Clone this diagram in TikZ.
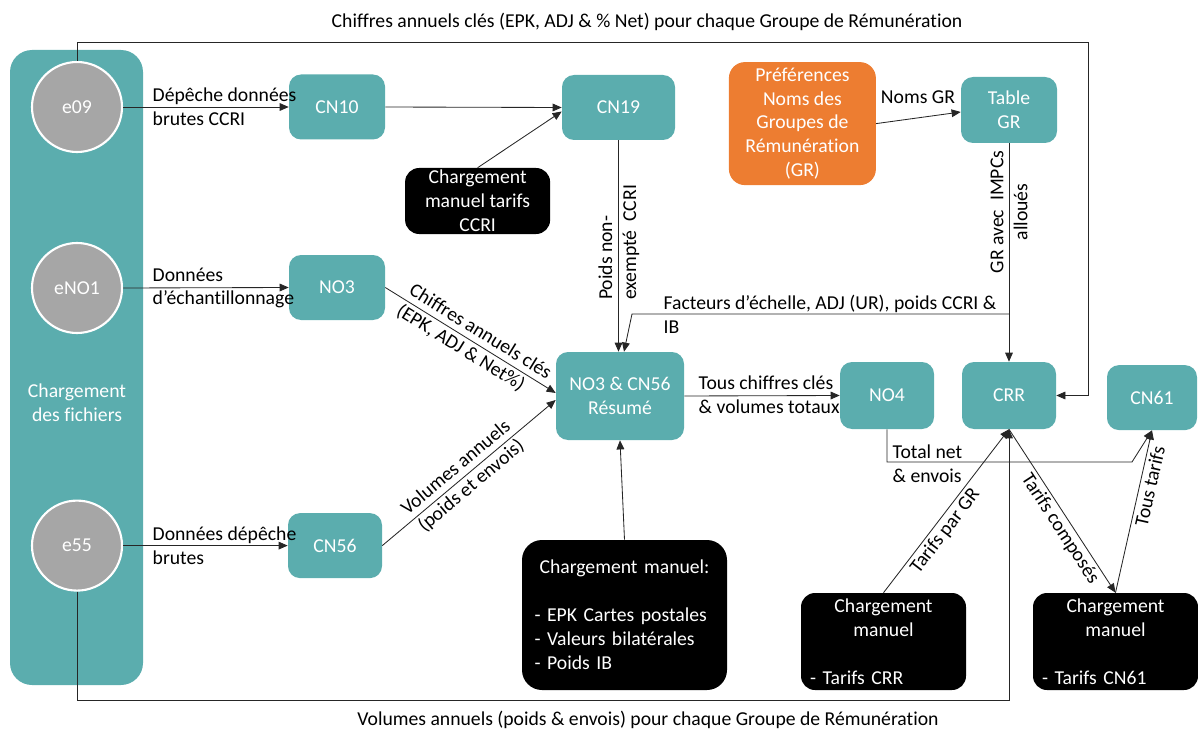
\documentclass[tikz,border=0pt]{standalone}
\usepackage{fontspec}
\setmainfont{Carlito}[Ligatures=NoCommon]
\usepackage{tikz}
\usetikzlibrary{positioning,arrows.meta,calc}
\definecolor{tealbox}{RGB}{91,173,174}
\definecolor{greycirc}{RGB}{166,166,166}
\definecolor{orangebox}{RGB}{237,125,49}

\begin{document}
\begin{tikzpicture}[
    >={Triangle[length=6.5pt,width=5.5pt]},
    font=\fontsize{14}{17}\selectfont,
    proc/.style={rectangle, rounded corners=0.3cm, fill=tealbox, text=white, align=center, minimum width=2.4cm, minimum height=1.625cm, inner sep=2pt},
    src/.style={circle, fill=greycirc, draw=white, line width=1.5pt, text=white, minimum size=2.25cm, inner sep=0pt},
    manual/.style={rectangle, rounded corners=0.35cm, fill=black, text=white, align=center, inner sep=0pt},
    flow/.style={->, line width=0.6pt, draw=black!85},
    lbl/.style={align=left, inner sep=1pt}
]
\useasboundingbox (0,0) rectangle (29.95,-18.275);

% === Chargement des fichiers ===
\node[rectangle, rounded corners=0.55cm, fill=tealbox, minimum width=3.325cm, minimum height=15.875cm] (panel) at (1.9125,-9.1875) {};
\node[text=white, align=center] (panellbl) at (1.925,-10.075) {Chargement\\des fichiers};

% Source files
\node[src] (e09) at (1.925,-2.675) {e09};
\node[src] (eNO1) at (1.925,-7.2) {eNO1};
\node[src] (e55) at (1.925,-13.64) {e55};

% Processes
\node[proc] (CN10) at (8.425,-2.675) {CN10};
\node[proc, minimum width=2.825cm] (CN19) at (15.4625,-2.6875) {CN19};
\node[proc, fill=orangebox, rounded corners=0.4cm, minimum width=3.675cm, minimum height=3.075cm] (prefGR) at (20.06,-3.09) {Préférences\\Noms des\\Groupes de\\Rémunération\\(GR)};
\node[proc, minimum height=1.65cm] (tableGR) at (25.225,-2.75) {Table\\GR};
\node[proc] (NO3) at (8.425,-7.1875) {NO3};
\node[proc, minimum width=3.2cm, minimum height=2.2cm] (resume) at (15.5,-9.9) {NO3 \& CN56\\Résumé};
\node[proc, minimum width=2.35cm, minimum height=1.675cm] (NO4) at (22.175,-9.8875) {NO4};
\node[proc, minimum width=2.35cm, minimum height=1.675cm] (CRR) at (25.225,-9.8875) {CRR};
\node[proc, minimum width=2.25cm] (CN61) at (28.8,-9.94) {CN61};
\node[proc, minimum width=2.35cm] (CN56) at (8.375,-13.64) {CN56};

% Manual loads
\node[manual, minimum width=3.625cm, minimum height=1.65cm] (manCCRI) at (11.94,-5.025) {Chargement\\manuel tarifs\\CCRI};
\node[manual, rounded corners=0.5cm, minimum width=5.125cm, minimum height=3.75cm, text width=4.5cm, align=left] (manBig) at (15.6125,-15.375) {\makebox[\hsize][c]{Chargement manuel:}\\[17pt]- EPK Cartes postales\\- Valeurs bilatérales\\- Poids IB};
\node[manual, minimum width=4.125cm, minimum height=2.425cm, text width=3.675cm] (manCRR) at (22.0875,-16.0375) {Chargement\\manuel\\[17pt]\makebox[\hsize][l]{- Tarifs CRR}};
\node[manual, minimum width=4.125cm, minimum height=2.425cm, text width=3.675cm] (manCN61) at (27.8875,-16.0375) {Chargement\\manuel\\[17pt]\makebox[\hsize][l]{- Tarifs CN61}};

% Labels
\node (toplbl) at (16.175,-0.55) {Chiffres annuels clés (EPK, ADJ \& \% Net) pour chaque Groupe de Rémunération};
\node (botlbl) at (16.2,-18.0) {Volumes annuels (poids \& envois) pour chaque Groupe de Rémunération};
\node[lbl, anchor=west] (lblDep) at (3.775,-2.675) {Dépêche données\\brutes CCRI};
\node[lbl, anchor=west] (lblEch) at (3.775,-7.2) {Données\\d’échantillonnage};
\node[lbl, anchor=west] (lblBrut) at (3.775,-13.65) {Données dépêche\\brutes};
\node[lbl] (lblNoms) at (22.95,-2.42) {Noms GR};
\node[lbl, anchor=west] (lblTous) at (17.425,-9.875) {Tous chiffres clés\\\& volumes totaux};
\node[lbl, anchor=west] (lblTot) at (22.275,-11.6) {Total net\\\& envois};
\node[lbl, anchor=west] (lblFac) at (16.55,-7.85) {Facteurs d’échelle, ADJ (UR), poids CCRI \&\\IB};
\node[lbl, rotate=90] (lblPoids) at (15.47,-6.06) {Poids non-\\exempté\ \ CCRI};
\node[lbl, rotate=90, align=center] (lblGRalloc) at (25.225,-5.3) {GR avec\ \ IMPCs\\alloués};

% Routing points
\coordinate (topR) at (27.2,-1.05);
\coordinate (botR) at (25.225,-17.5);
\coordinate (facR) at (25.225,-7.85);
\coordinate (facL) at (15.8,-7.85);
\coordinate (totR) at (28.3,-11.55);

% Connectors
\draw[flow] (e09.east) -- (CN10.west);
\draw[flow] (CN10.east) -- (CN19.west);
\draw[flow] (manCCRI.north) -- ($(CN19.west)+(0,-0.1)$);
\draw[flow] (CN19.south) -- (CN19.south |- resume.north);
\draw[flow] (prefGR.east) -- ($(tableGR.west)+(0,-0.05)$);
\draw[flow] (tableGR.south) -- (CRR.north);
\draw[flow] (facR) -- (facL) -- ($(resume.north)+(0.1,0)$);
\draw[flow] (e09.north) |- (topR) |- (CRR.east);
\draw[flow] (eNO1.east) -- (NO3.west);
\draw[flow] (NO3.east) -- node[sloped, align=left, pos=0.52, inner sep=1pt] (lblChif) {Chiffres annuels clés\\(EPK, ADJ \& Net\%)} ($(resume.west)+(0,0.075)$);
\draw[flow] (e55.east) -- (CN56.west);
\draw[flow] (CN56.east) -- node[sloped, align=center, pos=0.47, inner sep=1pt] (lblVol) {Volumes annuels\\(poids et envois)} ($(resume.west)+(0,-0.1)$);
\draw[flow] (manBig.north) -- (resume.south);
\draw[flow] (resume.east) -- (NO4.west);
\draw[flow] (NO4.south) |- (totR) -- (CN61.south);
\draw[flow] (manCRR.north) -- node[sloped, below, pos=0.42, inner sep=2pt] (lblTarGR) {Tarifs par GR} (CRR.south);
\draw[flow] (CRR.south) -- node[sloped, below, pos=0.57, inner sep=2pt] (lblTarComp) {Tarifs composés} (manCN61.north);
\draw[flow] (manCN61.north) -- node[sloped, below, pos=0.67, inner sep=2pt] (lblTousTar) {Tous tarifs} (CN61.south);
\draw[flow] (e55.south) |- (botR) -- (CRR.south);
\end{tikzpicture}
\end{document}
